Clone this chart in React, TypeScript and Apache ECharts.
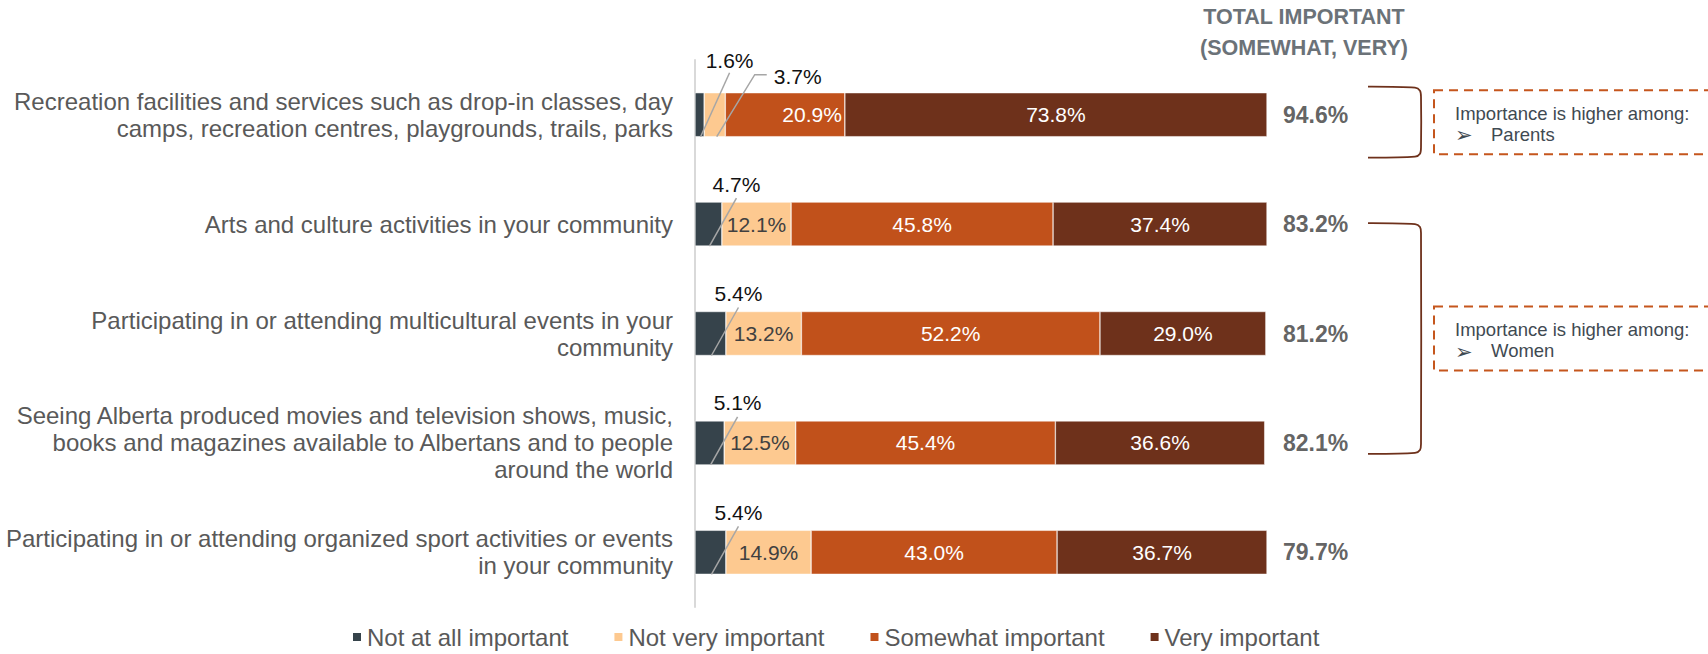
import React, { useEffect, useRef } from 'react';
import * as echarts from 'echarts';

const categories = [
  'Recreation facilities and services such as drop-in classes, day\ncamps, recreation centres, playgrounds, trails, parks',
  'Arts and culture activities in your community',
  'Participating in or attending multicultural events in your\ncommunity',
  'Seeing Alberta produced movies and television shows, music,\nbooks and magazines available to Albertans and to people\naround the world',
  'Participating in or attending organized sport activities or events\nin your community',
];
const seriesNames = ['Not at all important', 'Not very important', 'Somewhat important', 'Very important'];
const notAtAllImportant = [1.6, 4.7, 5.4, 5.1, 5.4];
const notVeryImportant = [3.7, 12.1, 13.2, 12.5, 14.9];
const somewhatImportant = [20.9, 45.8, 52.2, 45.4, 43.0];
const veryImportant = [73.8, 37.4, 29.0, 36.6, 36.7];
const totalImportant = [94.6, 83.2, 81.2, 82.1, 79.7];
const headerLines = ['TOTAL IMPORTANT', '(SOMEWHAT, VERY)'];
const calloutTitle = 'Importance is higher among:';
const calloutGroups = ['Parents', 'Women'];
const calloutRows = [[0, 0], [1, 3]];

const colors = ['#36434b', '#fdc990', '#c1511b', '#6e311b'];
const FONT = '"Liberation Sans", Arial, sans-serif';
const BAR_W = 44;
const OUTSIDE_LIMIT = 8;

const seriesValues = [notAtAllImportant, notVeryImportant, somewhatImportant, veryImportant];

function fmt(v: number) {
  return v.toFixed(1) + '%';
}

export default function App() {
  const ref = useRef<HTMLDivElement>(null);

  useEffect(() => {
    if (!ref.current) return;
    const chart = echarts.init(ref.current, null, { renderer: 'svg' });

    const outsideCount = categories.map((_, i) => seriesValues.filter((arr) => arr[i] < OUTSIDE_LIMIT).length);

    const barSeries = seriesValues.map((arr, s) => ({
      name: seriesNames[s],
      type: 'bar',
      stack: 'total',
      barWidth: BAR_W,
      itemStyle: { color: colors[s], borderColor: '#ffffff', borderWidth: 0.5 },
      label: {
        show: true,
        position: 'inside',
        fontSize: 21,
        fontFamily: FONT,
        color: s === 1 ? '#404040' : '#ffffff',
        formatter: (p: any) => (p.value < OUTSIDE_LIMIT ? '' : fmt(p.value)),
      },
      data: arr.map((v, i) => {
        const prevOutside = s > 0 && seriesValues[s - 1][i] < OUTSIDE_LIMIT && outsideCount[i] > 1 && v >= OUTSIDE_LIMIT;
        return prevOutside ? { value: v, label: { position: 'insideRight', distance: 3 } } : { value: v };
      }),
    }));

    const option: any = {
      animation: false,
      textStyle: { fontFamily: FONT },
      grid: { left: 695, right: 441, top: 60, bottom: 47, containLabel: false },
      xAxis: { type: 'value', min: 0, max: 100, show: false },
      yAxis: {
        type: 'category',
        inverse: true,
        data: categories,
        axisLine: { show: true, lineStyle: { color: '#d9d9d9', width: 2 } },
        axisTick: { show: false },
        axisLabel: { fontSize: 24, lineHeight: 27, color: '#595959', margin: 22, fontFamily: FONT, align: 'right' },
      },
      legend: {
        data: seriesNames,
        left: 351,
        top: 625,
        padding: 0,
        icon: 'rect',
        itemWidth: 10,
        itemHeight: 10,
        itemGap: 44,
        textStyle: { fontSize: 24, color: '#595959', fontFamily: FONT },
      },
      series: [
        ...barSeries,
        {
          type: 'scatter',
          data: totalImportant.map((_, i) => [100, i]),
          symbolSize: 0,
          silent: true,
          label: {
            show: true,
            position: 'right',
            distance: 16,
            fontSize: 23,
            fontWeight: 'bold',
            color: '#3a3a3a',
            fontFamily: FONT,
            formatter: (p: any) => fmt(totalImportant[p.dataIndex]),
          },
        },
      ],
    };
    chart.setOption(option);

    const px = (x: number, i: number) => chart.convertToPixel({ gridIndex: 0 }, [x, i]) as number[];
    const g: any[] = [];
    const lineStyle = { stroke: '#a6a6a6', lineWidth: 1.5 };
    const labelStyle = (text: string, x: number, y: number, align: string) => ({
      type: 'text',
      z: 20,
      style: { text, x, y, fill: '#111111', fontSize: 21, fontFamily: FONT, align, verticalAlign: 'middle' },
    });

    categories.forEach((_, i) => {
      const cy = px(0, i)[1];
      const bottom = cy + BAR_W / 2;
      let cum = 0;
      const outs: { v: number; mid: number }[] = [];
      seriesValues.forEach((arr) => {
        const v = arr[i];
        if (v < OUTSIDE_LIMIT) {
          const xa = px(cum, i)[0];
          const xb = px(cum + v, i)[0];
          outs.push({ v, mid: (xa + xb) / 2 });
        }
        cum += v;
      });
      outs.forEach((o, k) => {
        if (outs.length > 1 && k === 0) {
          const lx = o.mid + 30;
          const ly = cy - 54;
          g.push(labelStyle(fmt(o.v), lx, ly, 'center'));
          g.push({ type: 'line', z: 20, shape: { x1: lx, y1: ly + 12, x2: o.mid + 1, y2: bottom }, style: lineStyle });
        } else if (outs.length > 1) {
          const ly = cy - 38;
          g.push(labelStyle(fmt(o.v), o.mid + 59, ly, 'left'));
          g.push({
            type: 'polyline',
            z: 20,
            shape: { points: [[o.mid + 2, bottom], [o.mid + 40, ly - 2], [o.mid + 52, ly - 2]] },
            style: { ...lineStyle, fill: null },
          });
        } else {
          const lx = o.mid + 28;
          const ly = cy - 40;
          g.push(labelStyle(fmt(o.v), lx, ly, 'center'));
          g.push({ type: 'line', z: 20, shape: { x1: lx, y1: ly + 14, x2: o.mid + 1, y2: bottom }, style: lineStyle });
        }
      });
    });

    const xEnd = px(100, 0)[0];
    headerLines.forEach((t, k) => {
      g.push({
        type: 'text',
        z: 20,
        style: {
          text: t,
          x: xEnd + 37,
          y: 17 + k * 31,
          fill: '#6b7278',
          fontSize: 21.5,
          fontWeight: 'bold',
          fontFamily: FONT,
          align: 'center',
          verticalAlign: 'middle',
        },
      });
    });

    calloutRows.forEach(([a, b], k) => {
      const ca = px(0, a)[1];
      const cb = px(0, b)[1];
      const top = a === b ? ca - 28 : ca - 1;
      const bot = a === b ? cb + 43 : cb + 11;
      const x0 = xEnd + 101;
      const x1 = xEnd + 154;
      g.push({
        type: 'polyline',
        z: 20,
        shape: {
          points: [
            [x0, top],
            [x1 - 6, top + 1],
            [x1 - 1, top + 4],
            [x1, top + 10],
            [x1, bot - 10],
            [x1 - 1, bot - 4],
            [x1 - 6, bot - 1],
            [x0, bot],
          ],
          smooth: 0.3,
        },
        style: { stroke: '#6e311b', lineWidth: 1.8, fill: null },
      });
      const mid = (top + bot) / 2;
      const boxTop = mid - 32;
      const boxLeft = xEnd + 167;
      g.push({
        type: 'rect',
        z: 20,
        shape: { x: boxLeft, y: boxTop, width: 320, height: 64 },
        style: { fill: null, stroke: '#c5561d', lineWidth: 2, lineDash: [9, 6] },
      });
      g.push({
        type: 'text',
        z: 20,
        style: { text: calloutTitle, x: boxLeft + 21, y: boxTop + 23, fill: '#3f4a52', fontSize: 18.5, fontFamily: FONT, align: 'left', verticalAlign: 'middle' },
      });
      g.push({
        type: 'text',
        z: 20,
        style: { text: '\u27A2', x: boxLeft + 21, y: boxTop + 45, fill: '#3f4a52', fontSize: 21, fontFamily: '"DejaVu Sans", sans-serif', align: 'left', verticalAlign: 'middle' },
      });
      g.push({
        type: 'text',
        z: 20,
        style: { text: calloutGroups[k], x: boxLeft + 57, y: boxTop + 44, fill: '#3f4a52', fontSize: 18.5, fontFamily: FONT, align: 'left', verticalAlign: 'middle' },
      });
    });

    chart.setOption({ graphic: g });

    return () => chart.dispose();
  }, []);

  return <div ref={ref} style={{ position: 'fixed', left: 0, top: 0, width: 1708, height: 654, background: '#ffffff' }} />;
}
